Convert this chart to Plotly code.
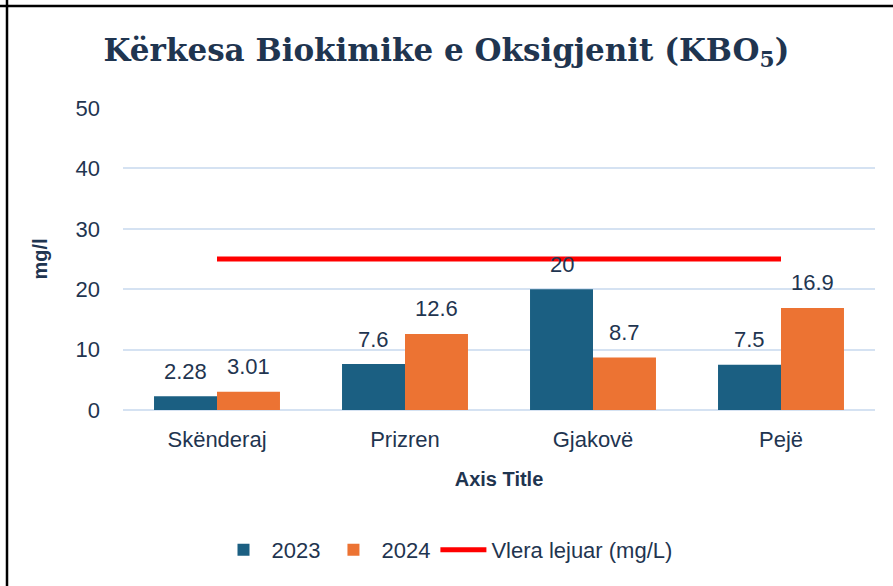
import plotly.graph_objects as go

categories = ["Skënderaj", "Prizren", "Gjakovë", "Pejë"]
values_2023 = [2.28, 7.6, 20, 7.5]
values_2024 = [3.01, 12.6, 8.7, 16.9]
limit = [25, 25, 25, 25]
labels_2023 = ["2.28", "7.6", "20", "7.5"]
labels_2024 = ["3.01", "12.6", "8.7", "16.9"]

W, H = 893, 586
ML, MR, MT, MB = 123, 18, 108, 176
TXT = "#1F3550"
SANS = "Liberation Sans, Arial, sans-serif"

fig = go.Figure()
fig.add_trace(go.Bar(x=categories, y=values_2023, name="2023",
                     marker=dict(color="#1B5F82", line=dict(width=0))))
fig.add_trace(go.Bar(x=categories, y=values_2024, name="2024",
                     marker=dict(color="#EC7333", line=dict(width=0))))
fig.add_trace(go.Scatter(x=categories, y=limit, name="Vlera lejuar (mg/L)",
                         mode="lines", line=dict(color="#FF0000", width=5)))

plot_w = W - ML - MR
bar_px = plot_w / len(categories) * (1 - 0.33) / 2
for cat, v, t in zip(categories, values_2023, labels_2023):
    fig.add_annotation(x=cat, y=v, text=t, showarrow=False, xshift=-bar_px / 2,
                       yshift=25, font=dict(size=22, color=TXT, family=SANS))
for cat, v, t in zip(categories, values_2024, labels_2024):
    fig.add_annotation(x=cat, y=v, text=t, showarrow=False, xshift=bar_px / 2,
                       yshift=25, font=dict(size=22, color=TXT, family=SANS))

fig.update_layout(
    width=W, height=H,
    margin=dict(l=ML, r=MR, t=MT, b=MB),
    paper_bgcolor="white", plot_bgcolor="white",
    barmode="group", bargap=0.33, bargroupgap=0,
    title=dict(text="Kërkesa Biokimike e Oksigjenit (KBO<sub>5</sub>)",
               x=0.5, xanchor="center", y=1 - 50 / H, yanchor="middle",
               font=dict(family="DejaVu Serif, serif", size=31, color=TXT, weight="bold")),
    legend=dict(orientation="h", x=0.5, xanchor="center", xref="container",
                y=36 / H, yanchor="middle", yref="container",
                font=dict(size=22, color=TXT, family=SANS),
                itemwidth=46, traceorder="normal"),
    showlegend=True,
)
fig.update_yaxes(range=[0, 50], dtick=10, showgrid=True, gridcolor="#D5E2F2", gridwidth=1.5,
                 zeroline=True, zerolinecolor="#D5E2F2", zerolinewidth=1.5,
                 tickfont=dict(size=22, color=TXT, family=SANS), ticks="", ticklabelstandoff=22,
                 title=dict(text="<b>mg/l</b>", font=dict(size=20, color=TXT, family=SANS), standoff=22))
fig.update_xaxes(showgrid=False, tickfont=dict(size=22, color=TXT, family=SANS), ticks="",
                 ticklabelstandoff=14,
                 title=dict(text="<b>Axis Title</b>", font=dict(size=20, color=TXT, family=SANS), standoff=20))

# chart border (top and left edges)
fig.add_shape(type="line", xref="paper", yref="paper",
              x0=(0 - ML) / plot_w, x1=(W - ML) / plot_w,
              y0=1 + (MT - 6) / (H - MT - MB), y1=1 + (MT - 6) / (H - MT - MB),
              line=dict(color="black", width=2.5))
fig.add_shape(type="line", xref="paper", yref="paper",
              x0=(7 - ML) / plot_w, x1=(7 - ML) / plot_w,
              y0=-MB / (H - MT - MB), y1=1 + MT / (H - MT - MB),
              line=dict(color="black", width=2.5))

fig.write_html("out.html", config={"displayModeBar": False},
               post_script="document.body.style.margin='0';")
